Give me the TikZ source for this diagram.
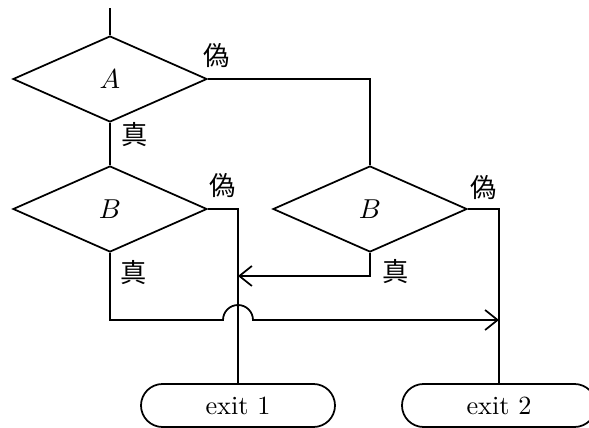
\documentclass[tikz,border=0pt]{standalone}
\usepackage{fontspec}
\newfontfamily\jfont{Noto Sans CJK JP}
\usetikzlibrary{shapes.geometric,shapes.misc,arrows.meta}
\tikzset{
  decision/.style={diamond,draw,line width=0.7pt,inner sep=0pt,
    minimum width=77.6pt,minimum height=34.4pt,font=\fontsize{10.5}{12}\selectfont},
  terminal/.style={rounded rectangle,draw,line width=0.7pt,inner sep=0pt,
    minimum width=77.6pt,minimum height=17.2pt,font=\fontsize{10.5}{12}\selectfont},
  branch/.style={font=\jfont\fontsize{10.5}{12}\selectfont,inner sep=0pt},
  flow/.style={line width=0.7pt},
  arrow/.style={flow,-{Straight Barb[length=5pt,width=8pt,line width=0.7pt]}}
}
\begin{document}
\begin{tikzpicture}[x=0.4pt,y=0.4pt]
      \clip (0,0) rectangle (589,428);

      \node[decision] (A) at (110,349) {$A$};

      \node[decision] (Bl) at (110,219) {$B$};
      \node[decision] (Br) at (370,219) {$B$};

      \node[terminal] (E1) at (238,22.5) {exit 1};
      \node[terminal] (E2) at (499,22.5) {exit 2};

      \node[branch] (fA) at (217,372) {偽};
      \node[branch] (tA) at (135,293) {真};
      \node[branch] (fBl) at (223,242) {偽};
      \node[branch] (tBl) at (134,155) {真};
      \node[branch] (fBr) at (484,240) {偽};
      \node[branch] (tBr) at (396,156) {真};

      \coordinate (in) at (110,420);
      \coordinate (j1) at (238,152);
      \coordinate (h1) at (223,108);
      \coordinate (j2) at (499,108);

      \draw[flow] (in) -- (A.north);
      \draw[flow] (A.east) -| (Br.north);
      \draw[flow] (A.south) -- (Bl.north);
      \draw[flow] (Bl.east) -| (E1.north);
      \draw[flow] (Br.east) -| (E2.north);
      \draw[arrow] (Br.south) |- (j1);
      \draw[arrow] (Bl.south) |- (h1) arc[start angle=180,end angle=0,radius=6pt] -- (j2);
    \end{tikzpicture}
\end{document}
